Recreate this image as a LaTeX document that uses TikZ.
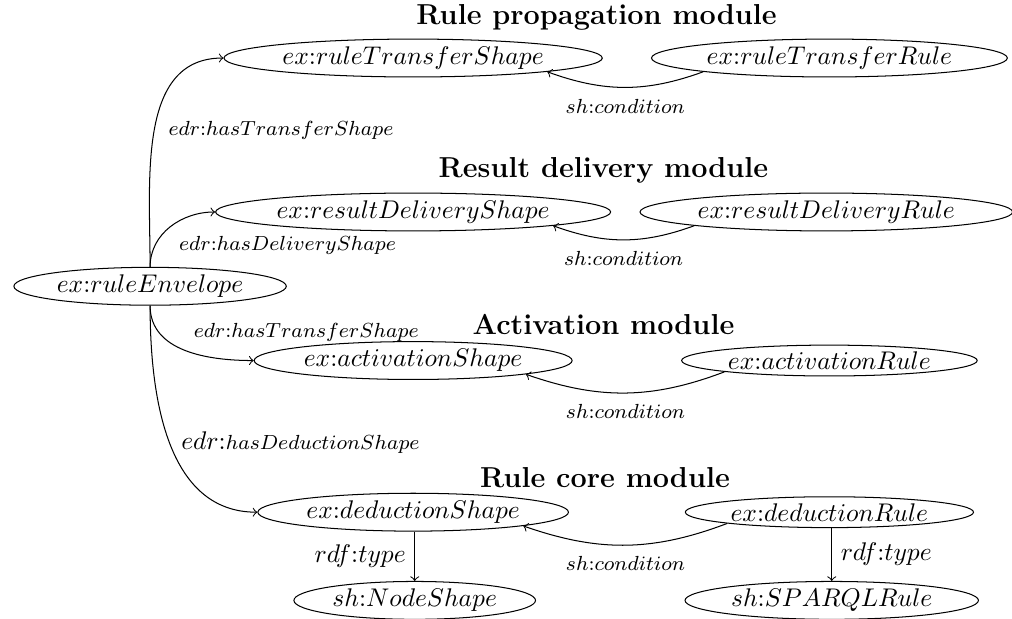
\documentclass[tikz,border=0pt]{standalone}
\usepackage{amsmath}
\usetikzlibrary{shapes,arrows,positioning,calc}

\begin{document}
\begin{tikzpicture}[x=1.065cm, y=1.065cm,
  res/.style={ellipse, draw, inner xsep=1.2pt, inner ysep=0.8pt},
  modtitle/.style={font=\fontsize{11.3}{13.5}\selectfont\bfseries},
  prop/.style={font=\footnotesize},
  link/.style={->}
]
\useasboundingbox (0,0) rectangle (13.08,-8.0);

\node[res] (env) at (1.94,-3.70) {$ex$:$ruleEnvelope$};

% Rule propagation module
\node[modtitle] (tprop) at (7.71,-0.23) {Rule propagation module};
\node[res] (rts) at (5.34,-0.75) {$ex$:$ruleTransferShape$};
\node[res] (rtr) at (10.72,-0.75) {$ex$:$ruleTransferRule$};

% Result delivery module
\node[modtitle] (tdel) at (7.80,-2.20) {Result delivery module};
\node[res] (rds) at (5.34,-2.74) {$ex$:$resultDeliveryShape$};
\node[res] (rdr) at (10.68,-2.74) {$ex$:$resultDeliveryRule$};

% Activation module
\node[modtitle] (tact) at (7.80,-4.19) {Activation module};
\node[res] (acs) at (5.34,-4.66) {$ex$:$activationShape$};
\node[res] (acr) at (10.72,-4.66) {$ex$:$activationRule$};

% Rule core module
\node[modtitle] (tcore) at (7.82,-6.18) {Rule core module};
\node[res] (dds) at (5.34,-6.62) {$ex$:$deductionShape$};
\node[res] (ddr) at (10.72,-6.62) {$ex$:$deductionRule$};
\node[res] (nsh) at (5.36,-7.76) {$sh$:$NodeShape$};
\node[res] (spr) at (10.75,-7.76) {$sh$:$SPARQLRule$};

% envelope links
\draw[link] (env.north) to[out=90,in=180] node[prop,pos=0.5,anchor=west,xshift=2pt] {$edr$:$hasTransferShape$} (rts.west);
\draw[link] (env.north) to[out=90,in=180] node[prop,pos=0.5,anchor=north west] {$edr$:$hasDeliveryShape$} (rds.west);
\draw[link] (env.south) to[out=-90,in=180] node[prop,pos=0.5,anchor=south west] {$edr$:$hasTransferShape$} (acs.west);
\draw[link] (env.south) to[out=-90,in=180] node[pos=0.5,anchor=west,xshift=1pt] {$edr$:{\footnotesize$hasDeductionShape$}} (dds.west);

% conditions
\draw[link] (rtr.south west) to[bend left=20] node[prop,below=1pt] {$sh$:$condition$} (rts.south east);
\draw[link] (rdr.south west) to[bend left=20] node[prop,below=1pt] {$sh$:$condition$} (rds.south east);
\draw[link] (acr.south west) to[bend left=20] node[prop,below=1pt] {$sh$:$condition$} (acs.south east);
\draw[link] (ddr.south west) to[bend left=20] node[prop,below=1pt] {$sh$:$condition$} (dds.south east);

% types
\draw[link] (dds.south -| nsh.north) -- node[left] {$rdf$:$type$} (nsh.north);
\draw[link] (ddr.south -| spr.north) -- node[right] {$rdf$:$type$} (spr.north);
\end{tikzpicture}
\end{document}
